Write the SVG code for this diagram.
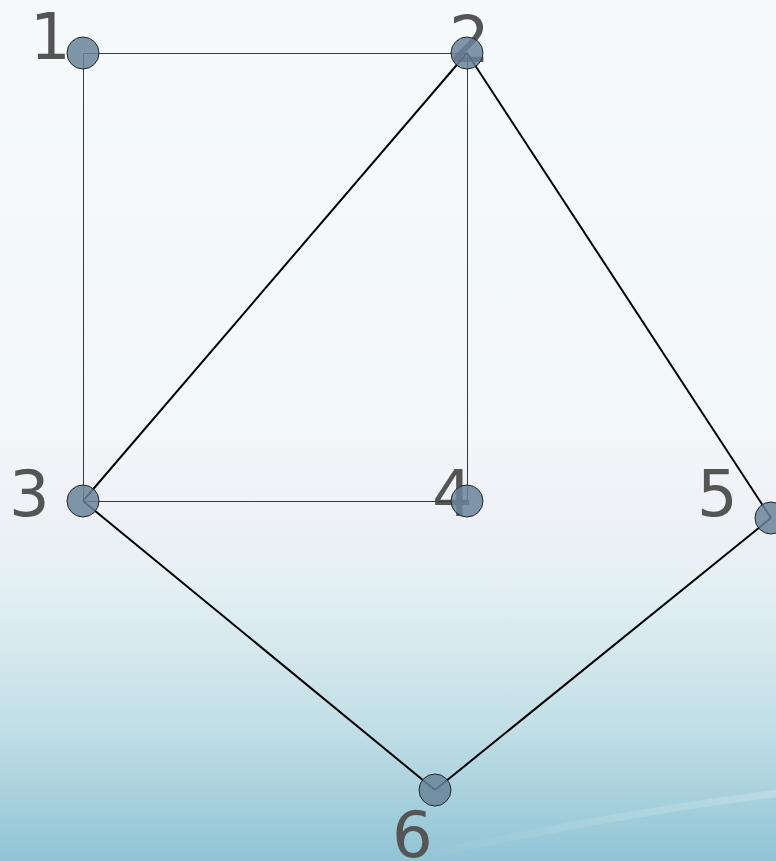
<svg xmlns="http://www.w3.org/2000/svg" width="776" height="861" viewBox="0 0 776 861">
<defs>
<linearGradient id="bg" x1="0" y1="0" x2="0" y2="1">
<stop offset="0" stop-color="#f6fafb"/>
<stop offset="0.5" stop-color="#f2f7f8"/>
<stop offset="0.57" stop-color="#f1f2f8"/>
<stop offset="0.68" stop-color="#e4f0f3"/>
<stop offset="0.85" stop-color="#c0dee6"/>
<stop offset="1" stop-color="#90c4d4"/>
</linearGradient>
<linearGradient id="streak" x1="0" y1="0" x2="1" y2="0">
<stop offset="0" stop-color="#ffffff" stop-opacity="0"/>
<stop offset="1" stop-color="#ffffff" stop-opacity="0.2"/>
</linearGradient>
<style>
.lbl{font-family:"DejaVu Sans",sans-serif;font-size:64px;fill:#555555}
.nd{fill:#6a8499;fill-opacity:0.85;stroke:#1b2733;stroke-width:1}
.thin{stroke:#3a3a3a;stroke-width:1;fill:none}
.thick{stroke:#000000;stroke-width:2;fill:none}
</style>
</defs>
<rect x="0" y="0" width="776" height="861" fill="url(#bg)"/>
<path d="M380 861 Q600 812 776 790 L776 797 Q600 820 420 861 Z" fill="url(#streak)"/>
<g id="labels">
<text class="lbl" x="30" y="59">1</text>
<text class="lbl" x="449" y="62">2</text>
<text class="lbl" x="9" y="516">3</text>
<text class="lbl" x="432" y="516">4</text>
<text class="lbl" x="697" y="516">5</text>
<text class="lbl" x="392" y="857">6</text>
</g>
<g id="connectors">
<line class="thin" x1="83.5" y1="53.5" x2="467.5" y2="53.5"/>
<line class="thin" x1="83.5" y1="53.5" x2="83.5" y2="501.5"/>
<line class="thin" x1="467.5" y1="53.5" x2="467.5" y2="501.5"/>
<line class="thin" x1="83.5" y1="501.5" x2="467.5" y2="501.5"/>
<line class="thick" x1="467" y1="53" x2="83" y2="501"/>
<line class="thick" x1="467" y1="53" x2="771" y2="518"/>
<line class="thick" x1="83" y1="501" x2="435" y2="790"/>
<line class="thick" x1="771" y1="518" x2="435" y2="790"/>
</g>
<g id="node1"><circle class="nd" cx="83" cy="53" r="16"/></g>
<g id="node2"><circle class="nd" cx="467" cy="53" r="16"/></g>
<g id="node3"><circle class="nd" cx="83" cy="501" r="16"/></g>
<g id="node4"><circle class="nd" cx="467" cy="501" r="16"/></g>
<g id="node5"><circle class="nd" cx="771" cy="518" r="16"/></g>
<g id="node6"><circle class="nd" cx="435" cy="790" r="16"/></g>
</svg>
